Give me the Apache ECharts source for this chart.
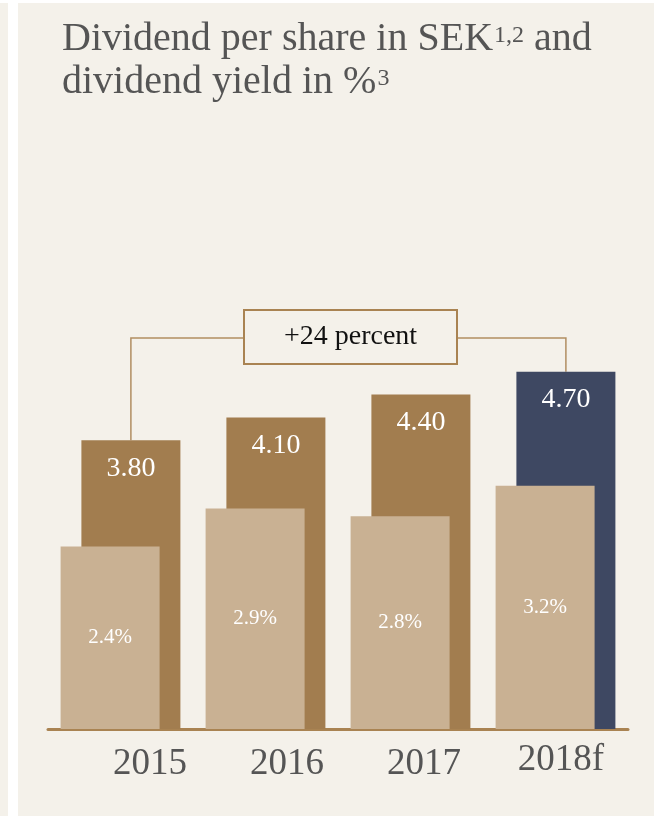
<!DOCTYPE html>
<html>
<head>
<meta charset="utf-8">
<script src="https://cdn.jsdelivr.net/npm/echarts@6/dist/echarts.min.js"></script>
<style>
  html, body { margin: 0; padding: 0; background: #ffffff; }
  #chart { width: 654px; height: 816px; }
</style>
</head>
<body>
<div id="chart"></div>
<script>
// Dividend per share (SEK) and dividend yield (%) by year
const years = ['2015', '2016', '2017', '2018f'];
const dividendSEK = [3.80, 4.10, 4.40, 4.70];
const yieldPct = [2.4, 2.9, 2.8, 3.2];
const growthLabel = '+24 percent';

const BG = '#F4F1EA';
const BROWN = '#A27D4F';
const TAN = '#C9B193';
const NAVY = '#3E4862';
const LINE = '#A98352';
const SERIF = '"Liberation Serif", "DejaVu Serif", serif';

// per-year horizontal nudge of the year labels (px of left padding)
const yearShift = [59, 43, 27, 11];

const chart = echarts.init(document.getElementById('chart'), null, { renderer: 'canvas' });

const titleMain = { fontFamily: SERIF, fontSize: 40, lineHeight: 43, color: '#555555' };
const titleSup = { fontFamily: SERIF, fontSize: 24, lineHeight: 24, color: '#555555', verticalAlign: 'top', padding: [6, 0, 0, 1] };

const option = {
  backgroundColor: BG,
  animation: false,
  title: {
    text: '{t|Dividend per share in SEK}{s|1,2}{t| and}\n{t|dividend yield in %}{s|3}',
    left: 57,
    top: 13,
    textStyle: {
      fontFamily: SERIF,
      fontWeight: 'normal',
      fontSize: 40,
      lineHeight: 43,
      color: '#555555',
      rich: { t: titleMain, s: titleSup }
    }
  },
  grid: { left: 48, right: 26, top: 273, bottom: 87 },
  xAxis: {
    type: 'category',
    data: years,
    axisTick: { show: false },
    axisLine: { show: true, lineStyle: { color: LINE, width: 3 } },
    axisLabel: {
      interval: 0,
      margin: 13,
      formatter: (v, i) => '{y' + i + '|' + v + '}',
      rich: Object.fromEntries(years.map((y, i) => ['y' + i, {
        fontFamily: SERIF,
        fontSize: 37,
        color: '#555555',
        padding: [i === 3 ? 0 : 4, 0, 0, yearShift[i]]
      }]))
    }
  },
  yAxis: {
    type: 'value',
    min: 0,
    max: 6,
    show: false,
    splitLine: { show: false }
  },
  series: [
    {
      name: 'Dividend yield',
      type: 'bar',
      data: yieldPct,
      barWidth: 99,
      barGap: '-79%',
      z: 3,
      itemStyle: { color: TAN },
      label: {
        show: true,
        position: 'inside',
        formatter: p => p.value.toFixed(1) + '%',
        fontFamily: SERIF,
        fontSize: 21,
        color: '#ffffff'
      }
    },
    {
      name: 'Dividend per share',
      type: 'bar',
      data: dividendSEK.map((v, i) => ({
        value: v,
        itemStyle: { color: i === years.length - 1 ? NAVY : BROWN }
      })),
      barWidth: 99,
      z: 2,
      label: {
        show: true,
        position: 'insideTop',
        distance: 14,
        formatter: p => p.value.toFixed(2),
        fontFamily: SERIF,
        fontSize: 28,
        color: '#ffffff'
      }
    }
  ]
};

chart.setOption(option);

// Bracket from the first to the last dividend bar with the growth box
function drawBracket() {
  const data = chart.getModel().getSeriesByIndex(1).getData();
  const first = data.getItemLayout(0);
  const last = data.getItemLayout(years.length - 1);
  const x1 = first.x + first.width / 2;
  const x2 = last.x + last.width / 2;
  const y1 = Math.min(first.y, first.y + first.height);
  const y2 = Math.min(last.y, last.y + last.height);
  const lineY = 338;
  const boxL = 244, boxR = 457, boxT = 310, boxB = 364;
  const stroke = { stroke: '#B18E62', lineWidth: 1.5 };

  chart.setOption({
    graphic: [
      // white frame strips of the panel
      { type: 'rect', shape: { x: 0, y: 0, width: 654, height: 3 }, style: { fill: '#ffffff' }, silent: true },
      { type: 'rect', shape: { x: 8, y: 0, width: 10, height: 816 }, style: { fill: '#ffffff' }, silent: true },
      { type: 'polyline', shape: { points: [[x1, y1], [x1, lineY], [boxL, lineY]] }, style: Object.assign({ fill: null }, stroke), silent: true },
      { type: 'polyline', shape: { points: [[boxR, lineY], [x2, lineY], [x2, y2]] }, style: Object.assign({ fill: null }, stroke), silent: true },
      { type: 'rect', shape: { x: boxL, y: boxT, width: boxR - boxL, height: boxB - boxT }, style: { fill: BG, stroke: LINE, lineWidth: 2 }, silent: true },
      {
        type: 'text',
        x: (boxL + boxR) / 2,
        y: (boxT + boxB) / 2,
        style: {
          text: growthLabel,
          fontFamily: SERIF,
          fontSize: 28,
          fill: '#111111',
          align: 'center',
          verticalAlign: 'middle'
        },
        silent: true
      }
    ]
  });
}
drawBracket();
</script>
</body>
</html>
